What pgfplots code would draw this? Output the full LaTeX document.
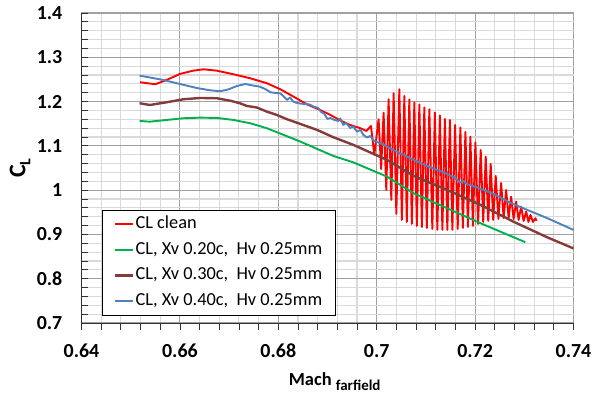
\documentclass[border=0pt]{standalone}
\usepackage{pgfplots}
\pgfplotsset{compat=1.18}
\usepackage{fontspec}
\setmainfont{Carlito}
\definecolor{lnred}{RGB}{255,0,0}
\definecolor{lngreen}{RGB}{0,176,80}
\definecolor{lnmaroon}{RGB}{132,60,58}
\definecolor{lnblue}{RGB}{79,129,189}
\definecolor{majgrid}{RGB}{160,160,160}
\definecolor{mingrid}{RGB}{217,217,217}
\begin{document}
\begin{tikzpicture}
\begin{axis}[
  name=ax,
  scale only axis, width=492bp, height=310bp,
  xmin=0.64, xmax=0.74, ymin=0.7, ymax=1.4,
  xtick={0.64,0.66,0.68,0.7,0.72,0.74},
  ytick={0.7,0.8,0.9,1,1.1,1.2,1.3,1.4},
  minor tick num=4,
  scaled x ticks=false, scaled y ticks=false,
  grid=both,
  major grid style={draw=majgrid, line width=1.1bp},
  minor grid style={draw=mingrid, line width=1.1bp},
  axis x line*=bottom, axis y line*=left,
  every outer x axis line/.append style={-},
  every outer y axis line/.append style={-},
  axis line style={draw=black!80, line width=0.9bp},
  tick align=inside,
  major tick length=7bp, minor tick length=7bp,
  tick style={draw=black!80, line width=0.8bp},
  x tick style={yshift=-7bp},
  /pgf/number format/assume math mode=true,
  ticklabel style={font=\bfseries\fontsize{20}{20}\selectfont},
  yticklabel style={inner sep=0pt, xshift=-19bp},
  xticklabel style={inner sep=0pt, yshift=-21bp},
  xlabel={\bfseries\fontsize{18.5}{18.5}\selectfont Mach \raisebox{-5bp}{\fontsize{15}{15}\selectfont farfield}},
  xlabel style={at={(axis description cs:0.5146,-0.2032)}, anchor=base, inner sep=0pt},
  ylabel={\bfseries\fontsize{24}{24}\selectfont C\raisebox{-5bp}{\fontsize{16}{16}\selectfont L}},
  ylabel style={at={(axis description cs:-0.125,0.5)}, anchor=center, inner sep=0pt},
  legend cell align=left,
  legend image code/.code={\draw[#1] (0bp,0bp) -- (18bp,0bp);},
  legend style={at={(axis description cs:0.0417,0.0258)}, anchor=south west,
    draw=black, fill=white,
    font=\fontsize{18.4}{20}\selectfont,
    inner xsep=11.5bp, inner ysep=3.5bp, row sep=5.8bp,
    nodes={inner sep=1.5bp, text height=13bp, text depth=4bp}},
]
\addplot[draw=lnred, line width=1.9bp, line join=round] coordinates {
(0.6519,1.2436) (0.6550,1.2391) (0.6573,1.2488) (0.6600,1.2623) (0.6627,1.2698)
(0.6648,1.2729) (0.6675,1.2698) (0.6709,1.2616) (0.6743,1.2526) (0.6777,1.2413)
(0.6804,1.2278) (0.6831,1.2111) (0.6858,1.1939) (0.6885,1.1810) (0.6906,1.1698)
(0.6926,1.1573) (0.6946,1.1472) (0.6967,1.1397) (0.6979,1.1336)
(0.69884,1.1449) (0.69951,1.0795) (0.70039,1.1600) (0.70090,1.0479) (0.70140,1.1749)
(0.70195,1.0005) (0.70242,1.2052) (0.70297,0.9779) (0.70344,1.2187) (0.70399,0.9463)
(0.70460,1.2278) (0.70511,0.9327) (0.70562,1.2126) (0.70612,0.9282) (0.70663,1.2047)
(0.70714,0.9237) (0.70765,1.1980) (0.70816,0.9192) (0.70867,1.1935) (0.70918,0.9169)
(0.70968,1.1867) (0.71019,0.9147) (0.71070,1.1826) (0.71131,0.9124) (0.71182,1.1754)
(0.71233,0.9102) (0.71284,1.1686) (0.71335,0.9102) (0.71386,1.1607) (0.71436,0.9102)
(0.71487,1.1585) (0.71538,0.9102) (0.71593,1.1472) (0.71646,0.9124) (0.71701,1.1415)
(0.71752,0.9147) (0.71803,1.1314) (0.71854,0.9169) (0.71904,1.1208) (0.71955,0.9192)
(0.72006,1.1077) (0.72061,0.9237) (0.72114,1.0907) (0.72165,0.9282) (0.72216,1.0756)
(0.72267,0.9305) (0.72317,1.0592) (0.72368,0.9327) (0.72419,1.0321) (0.72474,0.9350)
(0.72529,1.0163) (0.72580,0.9372) (0.72631,1.0005) (0.72682,0.9372) (0.72732,0.9853)
(0.72783,0.9350) (0.72834,0.9740) (0.72885,0.9327) (0.72936,0.9628) (0.72987,0.9305)
(0.73038,0.9515) (0.73084,0.9282) (0.73125,0.9440) (0.73176,0.9282) (0.73227,0.9366)
(0.73247,0.9305)
};
\addlegendentry{CL clean}
\addplot[draw=lngreen, line width=1.9bp, line join=round] coordinates {
(0.6518,1.1562) (0.6539,1.1546) (0.6573,1.1585) (0.6607,1.1623) (0.6641,1.1637)
(0.6675,1.1630) (0.6709,1.1585) (0.6743,1.1510) (0.6777,1.1397) (0.6811,1.1246)
(0.6845,1.1095) (0.6879,1.0930) (0.6912,1.0772) (0.6953,1.0625) (0.7021,1.0305)
(0.7075,0.9930) (0.7143,0.9591) (0.7211,0.9253) (0.7302,0.8824)
};
\addlegendentry{CL, Xv 0.20c,\ \ Hv 0.25mm}
\addplot[draw=lnmaroon, line width=2.4bp, line join=round] coordinates {
(0.6518,1.1962) (0.6539,1.1923) (0.6573,1.1984) (0.6607,1.2052) (0.6641,1.2081)
(0.6675,1.2075) (0.6702,1.2020) (0.6722,1.1962) (0.6736,1.1901) (0.6756,1.1867)
(0.6777,1.1772) (0.6797,1.1698) (0.6818,1.1600) (0.6845,1.1494) (0.6879,1.1359)
(0.6912,1.1194) (0.6953,1.1020) (0.7021,1.0682) (0.7075,1.0321) (0.7143,1.0005)
(0.7211,0.9666) (0.7279,0.9282) (0.7347,0.8933) (0.7400,0.8684)
};
\addlegendentry{CL, Xv 0.30c,\ \ Hv 0.25mm}
\addplot[draw=lnblue, line width=1.9bp, line join=round] coordinates {
(0.6518,1.2585) (0.6539,1.2544) (0.6566,1.2488) (0.6600,1.2397) (0.6634,1.2307)
(0.6661,1.2255) (0.6682,1.2233) (0.6698,1.2273) (0.6716,1.2352) (0.6733,1.2397)
(0.6750,1.2359) (0.6763,1.2336) (0.6775,1.2273) (0.6784,1.2210) (0.6794,1.2194)
(0.6804,1.2187) (0.6812,1.2104) (0.6818,1.2036) (0.6824,1.2093) (0.6830,1.2002)
(0.6838,1.1968) (0.6851,1.1946) (0.6863,1.1935) (0.6872,1.1885) (0.6881,1.1856)
(0.6887,1.1765) (0.6893,1.1731) (0.6900,1.1607) (0.6906,1.1630) (0.6914,1.1585)
(0.6922,1.1562) (0.6926,1.1619) (0.6932,1.1472) (0.6938,1.1517) (0.6946,1.1404)
(0.6952,1.1438) (0.6960,1.1321) (0.6967,1.1359) (0.6973,1.1246) (0.6980,1.1190)
(0.6987,1.1223) (0.6994,1.1117) (0.7007,1.1059) (0.7021,1.0982) (0.7034,1.0907)
(0.7055,1.0795) (0.7075,1.0682) (0.7102,1.0546) (0.7136,1.0400) (0.7160,1.0275)
(0.7170,1.0163) (0.7177,1.0208) (0.7182,1.0140) (0.7204,1.0061) (0.7238,0.9914)
(0.7272,0.9711) (0.7306,0.9553) (0.7347,0.9366) (0.7400,0.9102)
};
\addlegendentry{CL, Xv 0.40c,\ \ Hv 0.25mm}
\end{axis}
\pgfresetboundingbox
\path ([shift={(-81.5bp,-74bp)}]ax.south west) rectangle ([shift={(22.5bp,13bp)}]ax.north east);
\end{tikzpicture}
\end{document}
